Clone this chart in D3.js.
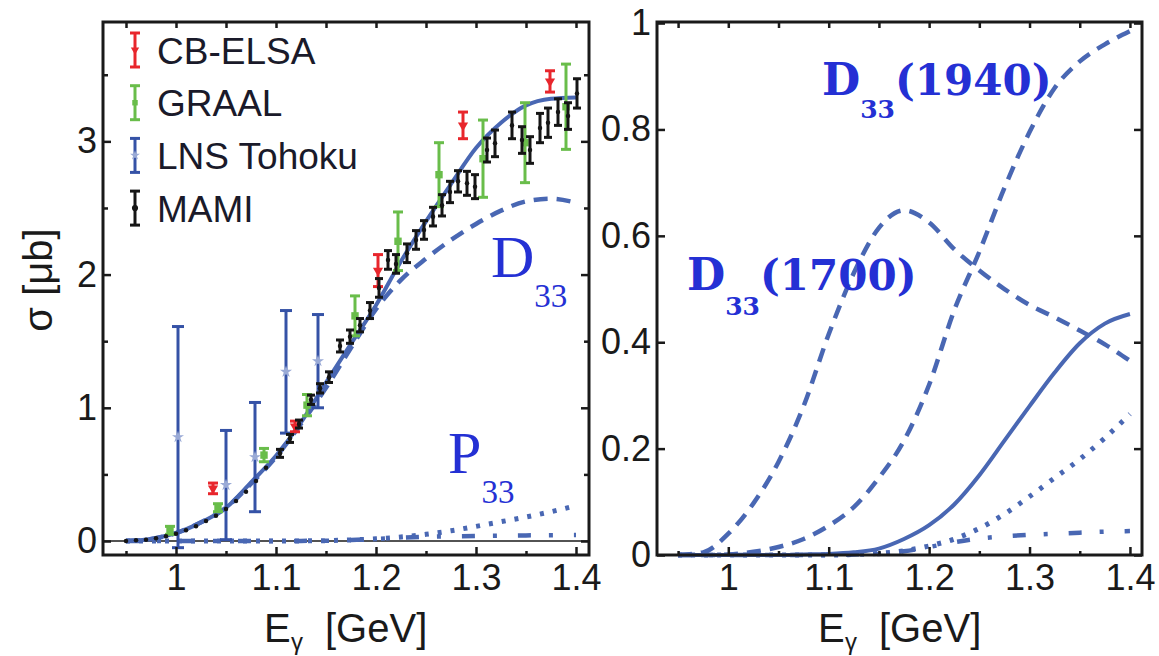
<!DOCTYPE html>
<html>
<head>
<meta charset="utf-8">
<script src="https://cdn.jsdelivr.net/npm/d3@7"></script>
<style>
  body { margin: 0; background: #fff; }
  svg { display: block; }
  .tick text { font-family: "Liberation Sans", Arial, sans-serif; font-size: 36px; fill: #1a1a1a; }
  .tick line { stroke: #1a1a1a; stroke-width: 2.5; }
  .domain { display: none; }
</style>
</head>
<body>
<svg id="chart" width="1159" height="656"></svg>
<script>
// energy grid for the model curves (GeV)
const energies = [0.95, 0.975, 1.0, 1.025, 1.05, 1.075, 1.1, 1.125, 1.15, 1.175, 1.2, 1.225, 1.25, 1.275, 1.3, 1.325, 1.35, 1.375, 1.4];

// left panel curves (sigma in mub)
const totalLeft = [0.0, 0.015, 0.06, 0.14, 0.25, 0.44, 0.64, 0.89, 1.19, 1.48, 1.77, 2.10, 2.40, 2.68, 2.95, 3.14, 3.27, 3.32, 3.33];
const d33Left   = [0.0, 0.015, 0.06, 0.14, 0.25, 0.43, 0.63, 0.88, 1.15, 1.45, 1.74, 1.96, 2.12, 2.26, 2.38, 2.48, 2.55, 2.57, 2.54];
const p33Curve  = [0, 0, 0, 0, 0, 0, 0, 0.001, 0.003, 0.008, 0.017, 0.03, 0.05, 0.077, 0.11, 0.145, 0.18, 0.22, 0.265];
const dashDotCurve = [0, 0, 0, 0, 0, 0, 0, 0.001, 0.002, 0.007, 0.015, 0.024, 0.031, 0.035, 0.038, 0.04, 0.042, 0.044, 0.045];

// right panel curves
const solidRight = [0, 0, 0, 0, 0, 0.001, 0.002, 0.005, 0.012, 0.03, 0.056, 0.095, 0.15, 0.215, 0.28, 0.343, 0.398, 0.435, 0.453];
const d33of1700 = [0, 0.005, 0.04, 0.097, 0.175, 0.28, 0.415, 0.53, 0.615, 0.648, 0.625, 0.575, 0.535, 0.5, 0.47, 0.447, 0.422, 0.396, 0.365];
const d33of1940 = [0, 0, 0.001, 0.006, 0.015, 0.03, 0.055, 0.09, 0.145, 0.215, 0.32, 0.46, 0.57, 0.69, 0.795, 0.878, 0.928, 0.96, 0.985];

// data sets
const cbElsaE = [1.037, 1.119, 1.202, 1.287, 1.374];
const cbElsaS = [0.395, 0.86, 2.03, 3.12, 3.45];
const cbElsaErr = [0.04, 0.04, 0.12, 0.1, 0.08];

const graalE = [0.994, 1.042, 1.088, 1.131, 1.179, 1.222, 1.263, 1.307, 1.349, 1.39];
const graalS = [0.08, 0.25, 0.645, 1.02, 1.69, 2.25, 2.75, 2.87, 2.99, 3.26];
const graalErr = [0.03, 0.03, 0.05, 0.08, 0.15, 0.22, 0.24, 0.29, 0.3, 0.32];

const lnsE = [1.002, 1.05, 1.079, 1.11, 1.142];
const lnsS = [0.78, 0.42, 0.63, 1.27, 1.35];
const lnsErr = [0.83, 0.41, 0.41, 0.46, 0.35];

const mamiE = [0.95, 0.96, 0.97, 0.98, 0.99, 1.0, 1.01, 1.02, 1.03, 1.04, 1.05, 1.06, 1.07, 1.08, 1.09,
  1.104, 1.114, 1.123, 1.135, 1.144, 1.153, 1.164, 1.174, 1.184, 1.194,
  1.203, 1.212, 1.22, 1.231, 1.24, 1.248, 1.257, 1.266, 1.274, 1.282,
  1.291, 1.299, 1.311, 1.319, 1.336, 1.346, 1.354, 1.364, 1.372, 1.382,
  1.392, 1.401];
const mamiS = [0.0, 0.005, 0.01, 0.02, 0.035, 0.055, 0.08, 0.11, 0.15, 0.19, 0.24, 0.3, 0.37, 0.45, 0.55,
  0.658, 0.77, 0.878, 1.06, 1.146, 1.23, 1.464, 1.534, 1.62, 1.73,
  1.9, 2.11, 2.08, 2.16, 2.26, 2.335, 2.435, 2.52, 2.62, 2.70,
  2.685, 2.66, 2.935, 2.985, 3.12, 3.01, 2.935, 3.10, 3.14, 3.22,
  3.19, 3.36];
const mamiErr = [0, 0, 0, 0, 0, 0, 0, 0, 0, 0, 0, 0, 0, 0, 0,
  0.03, 0.03, 0.03, 0.035, 0.035, 0.04, 0.045, 0.05, 0.05, 0.06,
  0.07, 0.07, 0.07, 0.07, 0.07, 0.07, 0.07, 0.08, 0.08, 0.08,
  0.09, 0.09, 0.09, 0.1, 0.1, 0.1, 0.1, 0.11, 0.11, 0.1,
  0.1, 0.11];

// tick labels
const xMajor = [1, 1.1, 1.2, 1.3, 1.4];
const xMinor = [0.95, 1.05, 1.15, 1.25, 1.35];
const yMajorLeft = [0, 1, 2, 3];
const yMinorLeft = [0.5, 1.5, 2.5, 3.5];
const yMajorRight = [0, 0.2, 0.4, 0.6, 0.8, 1];
const legendNames = ["CB-ELSA", "GRAAL", "LNS Tohoku", "MAMI"];

const curveBlue = "#4967b3";
const labelBlue = "#2430d4";
const colRed = "#e8262c", colGreen = "#69bd4a", colBlue = "#3552a6", colBlack = "#151515";

const svg = d3.select("#chart");

// scales
const xL = d3.scaleLinear().domain([0.927, 1.413]).range([103, 589]);
const yL = d3.scaleLinear().domain([-0.105, 3.896]).range([555, 22]);
const xR = d3.scaleLinear().domain([0.929, 1.412]).range([657, 1142]);
const yR = d3.scaleLinear().domain([0, 1.002]).range([555, 22]);

function frameAxes(g, x, y, yMajor, yMinor, yFmt) {
  const [x0, x1] = x.range();
  const [y0, y1] = y.range();
  // bottom
  g.append("g").attr("transform", `translate(0,${y0})`)
    .call(d3.axisBottom(x).tickValues(xMajor).tickSize(-8).tickPadding(9).tickFormat(d => String(d)));
  g.append("g").attr("transform", `translate(0,${y0})`)
    .call(d3.axisBottom(x).tickValues(xMinor).tickSize(-4).tickFormat(""));
  // top
  g.append("g").attr("transform", `translate(0,${y1})`)
    .call(d3.axisTop(x).tickValues(xMajor.concat(xMinor)).tickSize(-6).tickFormat(""));
  // left
  g.append("g").attr("transform", `translate(${x0},0)`)
    .call(d3.axisLeft(y).tickValues(yMajor).tickSize(-8).tickPadding(6).tickFormat(yFmt));
  // right
  g.append("g").attr("transform", `translate(${x1},0)`)
    .call(d3.axisRight(y).tickValues(yMajor).tickSize(-8).tickFormat(""));
  if (yMinor) {
    g.append("g").attr("transform", `translate(${x0},0)`)
      .call(d3.axisLeft(y).tickValues(yMinor).tickSize(-5).tickFormat(""));
    g.append("g").attr("transform", `translate(${x1},0)`)
      .call(d3.axisRight(y).tickValues(yMinor).tickSize(-5).tickFormat(""));
  }
  g.append("rect")
    .attr("x", x0).attr("y", y1)
    .attr("width", x1 - x0).attr("height", y0 - y1)
    .attr("fill", "none").attr("stroke", "#1a1a1a").attr("stroke-width", 3);
}

function drawCurve(g, x, y, vals, dash, width) {
  const line = d3.line()
    .x((d, i) => x(energies[i]))
    .y(d => y(d))
    .curve(d3.curveMonotoneX);
  g.append("path")
    .datum(vals)
    .attr("d", line)
    .attr("fill", "none")
    .attr("stroke", curveBlue)
    .attr("stroke-width", width || 4)
    .attr("stroke-dasharray", dash || null);
}

function drawErrors(g, x, y, es, ss, errs, color, cap, symbol, symSize, symFill, rot) {
  const pts = es.map((e, i) => ({ e: e, s: ss[i], err: errs[i] }));
  const grp = g.append("g");
  pts.forEach(p => {
    if (p.err > 0.015) {
      grp.append("line")
        .attr("x1", x(p.e)).attr("x2", x(p.e))
        .attr("y1", y(p.s - p.err)).attr("y2", y(p.s + p.err))
        .attr("stroke", color).attr("stroke-width", 3);
      [p.s - p.err, p.s + p.err].forEach(v => {
        grp.append("line")
          .attr("x1", x(p.e) - cap).attr("x2", x(p.e) + cap)
          .attr("y1", y(v)).attr("y2", y(v))
          .attr("stroke", color).attr("stroke-width", 3);
      });
    }
    grp.append("path")
      .attr("d", d3.symbol().type(symbol).size(symSize)())
      .attr("transform", `translate(${x(p.e)},${y(p.s)}) rotate(${rot || 0})`)
      .attr("fill", symFill);
  });
}

// ---------------- left panel ----------------
const left = svg.append("g");

left.append("line")
  .attr("x1", xL.range()[0]).attr("x2", xL.range()[1])
  .attr("y1", yL(0)).attr("y2", yL(0))
  .attr("stroke", "#1a1a1a").attr("stroke-width", 1.5);

drawCurve(left, xL, yL, dashDotCurve, "13,18,4,21", 4.5);
drawCurve(left, xL, yL, p33Curve, "4,9", 5);
drawCurve(left, xL, yL, d33Left, "14,9", 4.5);
drawCurve(left, xL, yL, totalLeft, null, 4);

drawErrors(left, xL, yL, lnsE, lnsS, lnsErr, colBlue, 6, d3.symbolStar, 45, "#9aaad6");
drawErrors(left, xL, yL, graalE, graalS, graalErr, colGreen, 5, d3.symbolSquare, 55, colGreen);
drawErrors(left, xL, yL, cbElsaE, cbElsaS, cbElsaErr, colRed, 5, d3.symbolTriangle, 45, colRed, 180);
drawErrors(left, xL, yL, mamiE, mamiS, mamiErr, colBlack, 4, d3.symbolCircle, 16, colBlack);

frameAxes(left, xL, yL, yMajorLeft, yMinorLeft, d => String(d));

// legend
const legendColors = [colRed, colGreen, colBlue, colBlack];
const legendMarks = [d3.symbolTriangle, d3.symbolSquare, d3.symbolStar, d3.symbolCircle];
const legend = left.append("g");
legendNames.forEach((name, i) => {
  const cy = 50 + i * 52.7;
  const row = legend.append("g").attr("transform", `translate(135,${cy})`);
  row.append("line").attr("y1", -17).attr("y2", 17).attr("stroke", legendColors[i]).attr("stroke-width", 3);
  row.append("line").attr("x1", -5).attr("x2", 5).attr("y1", -17).attr("y2", -17).attr("stroke", legendColors[i]).attr("stroke-width", 3);
  row.append("line").attr("x1", -5).attr("x2", 5).attr("y1", 17).attr("y2", 17).attr("stroke", legendColors[i]).attr("stroke-width", 3);
  row.append("path").attr("d", d3.symbol().type(legendMarks[i]).size(30)())
    .attr("transform", i === 0 ? "rotate(180)" : null)
    .attr("fill", i === 2 ? "#9aaad6" : legendColors[i]);
  row.append("text")
    .attr("x", 22).attr("y", 13.5)
    .attr("font-family", "Liberation Sans, Arial, sans-serif")
    .attr("font-size", 37)
    .attr("fill", "#1a1a2a")
    .text(name);
});

// annotations (left)
function subLabel(g, x, y, main, sub, mainSize, subSize, subDx, subDy, family, weight) {
  const t = g.append("text")
    .attr("x", x).attr("y", y)
    .attr("font-family", family)
    .attr("font-weight", weight || "normal")
    .attr("fill", labelBlue);
  t.append("tspan").attr("font-size", mainSize).text(main);
  t.append("tspan").attr("font-size", subSize).attr("dx", subDx).attr("dy", subDy).text(sub);
  return t;
}
subLabel(left, 491, 277, "D", "33", 60, 33, 0, 30, "Liberation Serif, Times New Roman, serif");
subLabel(left, 448, 473, "P", "33", 60, 33, 0, 30, "Liberation Serif, Times New Roman, serif");

// axis titles (left)
function xTitle(g, cx) {
  const t = g.append("text")
    .attr("y", 642)
    .attr("font-family", "Liberation Sans, Arial, sans-serif")
    .attr("fill", "#1a1a1a");
  t.append("tspan").attr("x", cx - 82).attr("font-size", 40).text("E");
  t.append("tspan").attr("x", cx - 55).attr("dy", 8).attr("font-size", 24).text("γ");
  t.append("tspan").attr("x", cx - 21).attr("dy", -8).attr("font-size", 40).text("[GeV]");
}
xTitle(left, 346);

left.append("text")
  .attr("transform", "translate(52,280) rotate(-90)")
  .attr("text-anchor", "middle")
  .attr("font-family", "Liberation Sans, Arial, sans-serif")
  .attr("font-size", 40)
  .attr("fill", "#1a1a1a")
  .text("σ [μb]");

// ---------------- right panel ----------------
const right = svg.append("g");

drawCurve(right, xR, yR, dashDotCurve, "13,18,4,21", 4.5);
drawCurve(right, xR, yR, p33Curve, "4,9", 5);
drawCurve(right, xR, yR, d33of1940, "14,9", 4.5);
drawCurve(right, xR, yR, d33of1700, "14,9", 4.5);
drawCurve(right, xR, yR, solidRight, null, 4);

frameAxes(right, xR, yR, yMajorRight, null, d => String(d));

const bold = "DejaVu Serif, Georgia, serif";
const l1940 = subLabel(right, 822, 95, "D", "33", 44, 25, 0, 23, bold, "bold");
l1940.append("tspan").attr("font-size", 42).attr("dy", -23).text("(1940)");
const l1700 = subLabel(right, 687, 290, "D", "33", 44, 25, 0, 25, bold, "bold");
l1700.append("tspan").attr("font-size", 42).attr("dy", -25).text("(1700)");

xTitle(right, 900);
</script>
</body>
</html>
